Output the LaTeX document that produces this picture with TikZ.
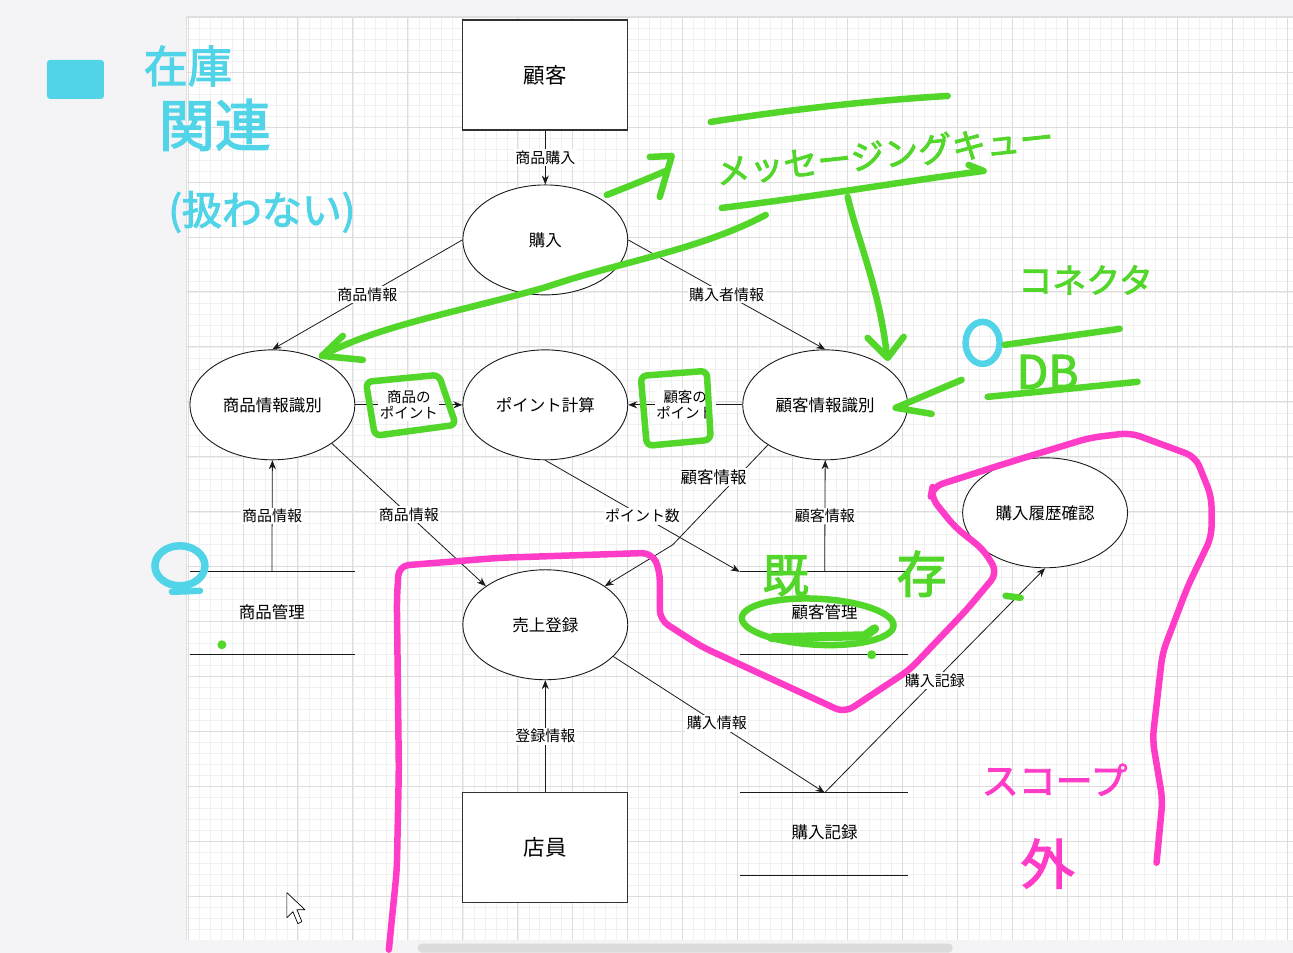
\documentclass[tikz,border=0pt]{standalone}
\usepackage{fontspec}
\setmainfont{Noto Sans CJK JP}
\newfontfamily\hand[FakeBold=2.5]{Noto Sans CJK JP}
\usetikzlibrary{arrows.meta,shapes.geometric}
\definecolor{gridmaj}{HTML}{DDDDDD}
\definecolor{gridmin}{HTML}{F0F0F0}
\definecolor{outerbg}{HTML}{F4F4F6}
\definecolor{hcyan}{HTML}{52D4E8}
\definecolor{hgreen}{HTML}{52D62A}
\definecolor{hpink}{HTML}{FF3CC8}
\definecolor{inkc}{HTML}{1A1A1A}
\tikzset{
  proc/.style={ellipse, draw=inkc, line width=0.9pt, fill=white, minimum width=165pt, minimum height=110pt, inner sep=0pt, font=\fontsize{16.5}{19}\selectfont},
  extent/.style={rectangle, draw=inkc!90, line width=1.2pt, fill=white, minimum width=165pt, minimum height=110pt, inner sep=0pt, font=\fontsize{21.5}{25}\selectfont},
  storetext/.style={inner sep=1pt, font=\fontsize{16.5}{19}\selectfont},
  storeline/.style={draw=inkc, line width=1pt},
  flow/.style={draw=inkc, line width=0.8pt, -{Stealth[length=9pt,width=7pt]}},
  lab/.style={fill=white, inner sep=1.5pt, font=\fontsize{15}{17}\selectfont, align=center},
  pen/.style={line width=6.5pt, line cap=round, line join=round},
  handtxt/.style={inner sep=0pt, font=\hand}
}
\begin{document}
\begin{tikzpicture}[x=1pt,y=-1pt]
% background and canvas
\fill[outerbg] (0,0) rectangle (1293,953);
\fill[white] (187,17) rectangle (1293,940);
\foreach \gx in {188,199,...,1293} \draw[gridmin, line width=0.6pt] (\gx,17) -- (\gx,940);
\foreach \gy in {17,28,...,940} \draw[gridmin, line width=0.6pt] (187,\gy) -- (1293,\gy);
\foreach \gx in {188,243,...,1293} \draw[gridmaj, line width=0.8pt] (\gx,17) -- (\gx,940);
\foreach \gy in {17,72,...,940} \draw[gridmaj, line width=0.8pt] (187,\gy) -- (1293,\gy);
\draw[black!12, line width=1pt] (187,940) -- (187,17) -- (1293,17);
\fill[black!14, rounded corners=4pt] (418,944) rectangle (953,953);

% nodes
\node[extent] (cust) at (545.5,75) {顧客};
\node[proc] (buy) at (545.5,240) {購入};
\node[proc] (pii) at (272.5,405) {商品情報識別};
\node[proc] (pc) at (545.5,405) {ポイント計算};
\node[proc] (cii) at (825.5,405) {顧客情報識別};
\node[proc] (sr) at (545.5,625) {売上登録};
\node[proc] (phc) at (1045.5,513) {購入履歴確認};
\node[extent] (clerk) at (545.5,848) {店員};

% data stores
\node[storetext] (st1) at (272,612) {商品管理};
\draw[storeline] (190,572) -- (355,572) (190,655) -- (355,655);
\coordinate (st1top) at (272,572);
\node[storetext] (st2) at (825,612) {顧客管理};
\draw[storeline] (740,572) -- (908,572) (740,655) -- (908,655);
\coordinate (st2top) at (825,572);
\coordinate (st2corner) at (740,572);
\node[storetext] (st3) at (825,833) {購入記録};
\draw[storeline] (740,793) -- (908,793) (740,876) -- (908,876);
\coordinate (st3top) at (825,793);
\coordinate (bend1) at (673,545);

% connectors
\draw[flow] (cust.south) -- (buy.north) node[lab, midway] {商品購入};
\draw[flow] (buy.west) -- (pii.north) node[lab, pos=0.5] {商品情報};
\draw[flow] (buy.east) -- (cii.north) node[lab, pos=0.5] {購入者情報};
\draw[flow] (pii.east) -- (pc.west) node[lab, midway, font=\fontsize{14.5}{16}\selectfont] {商品の\\ポイント};
\draw[flow] (cii.west) -- (pc.east) node[lab, midway, font=\fontsize{14.5}{16}\selectfont] {顧客の\\ポイント};
\draw[flow] (st1top) -- (pii.south) node[lab, midway] {商品情報};
\draw[flow] (pii.-33) -- (sr.147) node[lab, pos=0.5] {商品情報};
\draw[flow] (pc.south) -- (st2corner) node[lab, pos=0.5] {ポイント数};
\draw[flow] (cii.215) -- (bend1) -- (sr.33);
\node[lab, font=\fontsize{16.5}{19}\selectfont] (lbcust) at (714,477) {顧客情報};
\draw[flow] (st2top) -- (cii.south) node[lab, midway] {顧客情報};
\draw[flow] (sr.-25) -- (st3top) node[lab, pos=0.49] {購入情報};
\draw[flow] (st3top) -- (phc.south) node[lab, pos=0.5] {購入記録};
\draw[flow] (clerk.north) -- (sr.south) node[lab, midway] {登録情報};

% mouse pointer
\draw[black, line width=0.7pt, fill=white, line join=round] (287,893) -- (287,918) -- (293,912) -- (298,924) -- (302,922) -- (297,910) -- (305,910) -- cycle;

% ---------------- handwritten annotations ----------------
% cyan
\fill[hcyan, rounded corners=3pt] (47,60) rectangle (104,99);
\node[handtxt, text=hcyan, font=\hand\fontsize{44}{48}\selectfont] (c1) at (188,66) {在庫};
\node[handtxt, text=hcyan, font=\hand\fontsize{56}{60}\selectfont] (c2) at (215,125) {関連};
\node[handtxt, text=hcyan, font=\hand\fontsize{40}{46}\selectfont] (c3) at (262,212) {(扱わない)};
\draw[hcyan, pen] (983,343) ellipse [x radius=17, y radius=21];
\draw[hcyan, line width=7.5pt, line cap=round] (180,566) ellipse [x radius=25, y radius=20];
\draw[hcyan, pen] (172,592) -- (200,591);

% green
\draw[hgreen, pen] (711,122) .. controls (800,108) and (880,100) .. (948,96);
\node[handtxt, text=hgreen, font=\hand\fontsize{34}{38}\selectfont, rotate=6] (mq) at (885,154) {メッセージングキュー};
\draw[hgreen, pen] (722,208) .. controls (820,196) and (900,182) .. (984,171) -- (969,165);
\draw[hgreen, pen] (607,195) .. controls (630,186) and (650,178) .. (666,171);
\draw[hgreen, pen] (650,157) -- (672,156) -- (660,197);
\draw[hgreen, pen] (766,215) .. controls (700,250) and (620,262) .. (547,287) .. controls (460,312) and (380,325) .. (322,356);
\draw[hgreen, pen] (343,336) -- (322,356) -- (363,360);
\draw[hgreen, pen] (848,197) .. controls (858,240) and (880,290) .. (887,354);
\draw[hgreen, pen] (868,338) -- (888,358) -- (904,337);
\draw[hgreen, pen] (962,380) -- (896,408) -- (932,414);
\node[handtxt, text=hgreen, font=\hand\fontsize{34}{38}\selectfont] (cn) at (1086,280) {コネクタ};
\draw[hgreen, pen] (1005,345) -- (1120,329);
\node[handtxt, text=hgreen, font=\hand\fontsize{46}{50}\selectfont] (db) at (1048,372) {DB};
\draw[hgreen, pen] (988,397) -- (1138,382);
\draw[hgreen, pen, rounded corners=6pt] (366,382) -- (439,375) -- (456,425) -- (375,436) -- cycle;
\draw[hgreen, pen, rounded corners=6pt] (641,376) -- (707,371) -- (711,440) -- (647,446) -- cycle;
\node[handtxt, text=hgreen, font=\hand\fontsize{46}{50}\selectfont] (k1) at (786,576) {既};
\node[handtxt, text=hgreen, font=\hand\fontsize{50}{54}\selectfont] (k2) at (922,574) {存};
\draw[hgreen, pen] (1006,596) -- (1021,598);
\draw[hgreen, pen, rotate around={-3:(818,622)}] (818,622) ellipse [x radius=76, y radius=23];
\draw[hgreen, line width=9pt, line cap=round] (772,638) -- (865,636) -- (875,629);
\fill[hgreen] (872,655) circle (4.5);
\fill[hgreen] (222,645) circle (4.5);

% pink
\draw[hpink, pen, rounded corners=10pt] (389,950) -- (397,870) -- (399,770) -- (397,600) -- (399,566) -- (500,558) -- (652,553) -- (660,570) -- (660,620) -- (702,647) -- (845,713) -- (910,670) -- (967,610) -- (998,573) -- (984,550) -- (955,527) -- (931,497) -- (933,487) -- (1008,463) -- (1090,438) -- (1131,433) -- (1196,457) -- (1212,497) -- (1212,537) -- (1188,587) -- (1163,653) -- (1153,740) -- (1163,800) -- (1157,863);
\node[handtxt, text=hpink, font=\hand\fontsize{37}{42}\selectfont] (sc) at (1055,780) {スコープ};
\node[handtxt, text=hpink, font=\hand\fontsize{54}{58}\selectfont] (sg) at (1048,864) {外};
\end{tikzpicture}
\end{document}
